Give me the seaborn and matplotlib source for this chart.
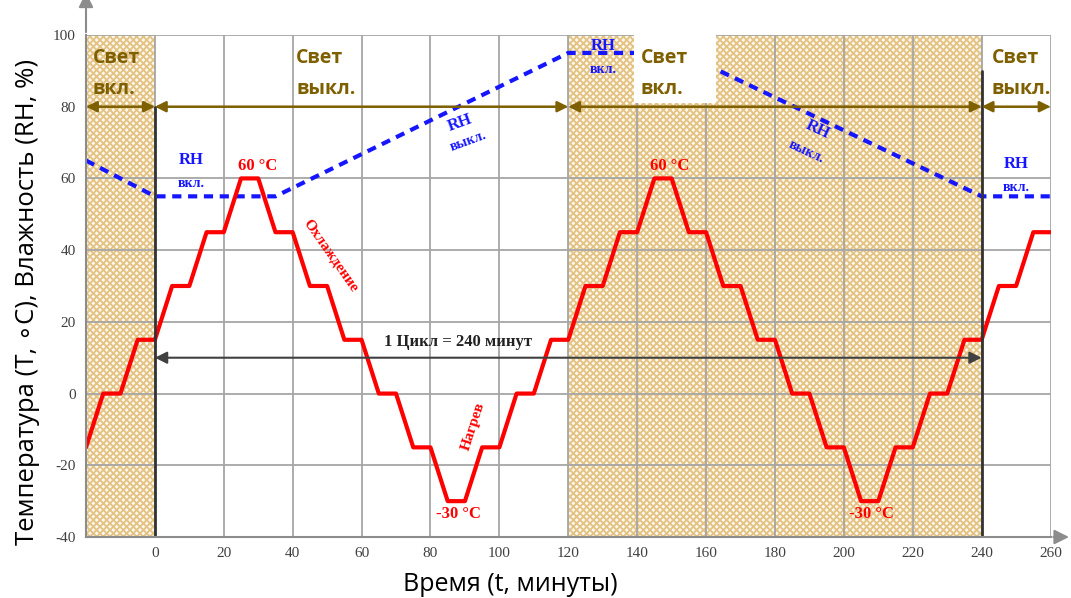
import matplotlib
matplotlib.use("Agg")
import matplotlib.pyplot as plt
import seaborn as sns
import pandas as pd
from matplotlib.patches import Rectangle

# ---- data ----
time_min = [-20, -15, -10, -5, 0, 5, 10, 15, 20, 25, 30, 35, 40, 45, 50, 55, 60,
            65, 70, 75, 80, 85, 90, 95, 100, 105, 110, 115, 120, 125, 130, 135,
            140, 145, 150, 155, 160, 165, 170, 175, 180, 185, 190, 195, 200, 205,
            210, 215, 220, 225, 230, 235, 240, 245, 250, 255, 260]
temperature = [-15, 0, 0, 15, 15, 30, 30, 45, 45, 60, 60, 45, 45, 30, 30, 15, 15,
               0, 0, -15, -15, -30, -30, -15, -15, 0, 0, 15, 15, 30, 30, 45,
               45, 60, 60, 45, 45, 30, 30, 15, 15, 0, 0, -15, -15, -30,
               -30, -15, -15, 0, 0, 15, 15, 30, 30, 45, 45]
rh_time = [-20, 0, 35, 120, 140, 153, 240, 260]
rh_value = [65, 55, 55, 95, 95, 95, 55, 55]
light_on_spans = [(-20, 0), (120, 240)]
light_segments = [(-20, 0), (0, 120), (120, 240), (240, 260)]
x_ticks = [0, 20, 40, 60, 80, 100, 120, 140, 160, 180, 200, 220, 240, 260]
y_ticks = [-40, -20, 0, 20, 40, 60, 80, 100]

temp_df = pd.DataFrame({"t": time_min, "T": temperature})
rh_df = pd.DataFrame({"t": rh_time, "RH": rh_value})

sns.set_theme(style="white")
plt.rcParams["hatch.linewidth"] = 1.3
plt.rcParams["axes.unicode_minus"] = False

fig = plt.figure(figsize=(10.71, 5.98), dpi=100)
ax = fig.add_axes([0.0803, 0.102, 0.9006, 0.8395])

BROWN = "#7f6000"
RED = "#ff0000"
BLUE = "#1515ff"
GRID = "#a6a6a6"

for a, b in light_on_spans:
    ax.axvspan(a, b, facecolor="#fdf8ee", edgecolor="#e3c282", hatch="xxxxx",
               lw=0, zorder=0.1)

ax.set_xlim(-20, 260)
ax.set_ylim(-40, 100)
ax.set_xticks([-20] + x_ticks)
ax.set_xticklabels([""] + [str(v) for v in x_ticks])
ax.set_yticks(y_ticks)
ax.set_yticklabels([str(v) for v in y_ticks])
ax.set_axisbelow(True)
ax.grid(True, color=GRID, lw=1.3)

for s in ["top", "right"]:
    ax.spines[s].set_visible(False)
for s in ["left", "bottom"]:
    ax.spines[s].set_color("#8c8c8c")
    ax.spines[s].set_linewidth(1.5)
ax.tick_params(axis="both", length=4, color="#8c8c8c", labelsize=11,
               labelcolor="#404040")
for lab in ax.get_xticklabels() + ax.get_yticklabels():
    lab.set_fontfamily("Liberation Serif")

# axis arrows
ax.annotate("", xy=(0, 1.09), xytext=(0, 1.0), xycoords="axes fraction",
            arrowprops=dict(arrowstyle="-|>", color="#8c8c8c", lw=1.5,
                            mutation_scale=22), annotation_clip=False)
ax.annotate("", xy=(1.022, 0), xytext=(1.0, 0), xycoords="axes fraction",
            arrowprops=dict(arrowstyle="-|>", color="#8c8c8c", lw=1.5,
                            mutation_scale=22), annotation_clip=False)

# lines
sns.lineplot(data=temp_df, x="t", y="T", color=RED, lw=3, ax=ax, zorder=2.2,
             sort=False)
sns.lineplot(data=rh_df, x="t", y="RH", color=BLUE, lw=3, ax=ax, zorder=2.1,
             sort=False, linestyle=(0, (2.2, 1.6)))

# cycle boundary lines
ax.plot([0, 0], [-40, 80], color="#333333", lw=2, zorder=2.3)
ax.plot([240, 240], [-40, 90], color="#333333", lw=2, zorder=2.3)

# white box behind third label
ax.add_patch(Rectangle((139, 81), 24, 19.3, facecolor="white", edgecolor="none",
                       zorder=2.6))

# brown light arrows
for a, b in light_segments:
    ax.annotate("", xy=(b, 80), xytext=(a, 80),
                arrowprops=dict(arrowstyle="<|-|>", color=BROWN, lw=1.8,
                                mutation_scale=16, shrinkA=0, shrinkB=0),
                zorder=2.8)

# cycle arrow
ax.annotate("", xy=(240, 10), xytext=(0, 10),
            arrowprops=dict(arrowstyle="<|-|>", color="#404040", lw=1.5,
                            mutation_scale=18, shrinkA=0, shrinkB=0), zorder=2.8)
ax.text(88, 14.5, "1 Цикл = 240 минут", family="Liberation Serif", weight="bold",
        fontsize=12, color="#222222", ha="center", va="center", zorder=3)

# light labels
light_labels = [(-18, "Свет\nвкл."), (41, "Свет\nвыкл."), (141, "Свет\nвкл."),
                (243, "Свет\nвыкл.")]
for x, s in light_labels:
    ax.text(x, 89.3, s, family="Open Sans", weight="bold", fontsize=14,
            color=BROWN, ha="left", va="center", linespacing=1.7, zorder=3)

# RH labels
serif = dict(family="Liberation Serif", weight="bold")
for x, y in [(10.5, 65), (130, 97), (250, 64)]:
    ax.text(x, y, "RH", color=BLUE, fontsize=12, ha="center", va="center",
            zorder=3, **serif)
    ax.text(x, y - 6.5, "вкл.", color=BLUE, fontsize=10, ha="center",
            va="center", zorder=3, **serif)
ax.text(88.5, 75.5, "RH", color=BLUE, fontsize=12, ha="center", va="center",
        rotation=20, zorder=3, **serif)
ax.text(91, 70.3, "выкл.", color=BLUE, fontsize=10, ha="center", va="center",
        rotation=20, zorder=3, **serif)
ax.text(192.5, 73.5, "RH", color=BLUE, fontsize=12, ha="center", va="center",
        rotation=-25, zorder=3, **serif)
ax.text(189, 67.5, "выкл.", color=BLUE, fontsize=10, ha="center", va="center",
        rotation=-25, zorder=3, **serif)

# temperature labels
for x in [29.8, 149.5]:
    ax.text(x, 63.5, "60 °C", color=RED, fontsize=12, ha="center", va="center",
            zorder=3, **serif)
for x in [88, 208]:
    ax.text(x, -33.5, "-30 °C", color=RED, fontsize=12, ha="center",
            va="center", zorder=3, **serif)
ax.text(51, 38.5, "Охлаждение", color=RED, fontsize=11, ha="center",
        va="center", rotation=-55, zorder=3, **serif)
ax.text(92.5, -9, "Нагрев", color=RED, fontsize=11, ha="center",
        va="center", rotation=72, zorder=3, **serif)

ax.set_xlabel("Время (t, минуты)", family=["Open Sans", "DejaVu Sans"],
              fontsize=18, color="black")
ax.xaxis.set_label_coords(0.44, -0.07)
ax.set_ylabel("Температура (T, ∘C), Влажность (RH, %)",
              family=["Open Sans", "DejaVu Sans"], fontsize=18.5, color="black")
ax.yaxis.set_label_coords(-0.048, 0.468)

fig.savefig("out.png", dpi=100)
